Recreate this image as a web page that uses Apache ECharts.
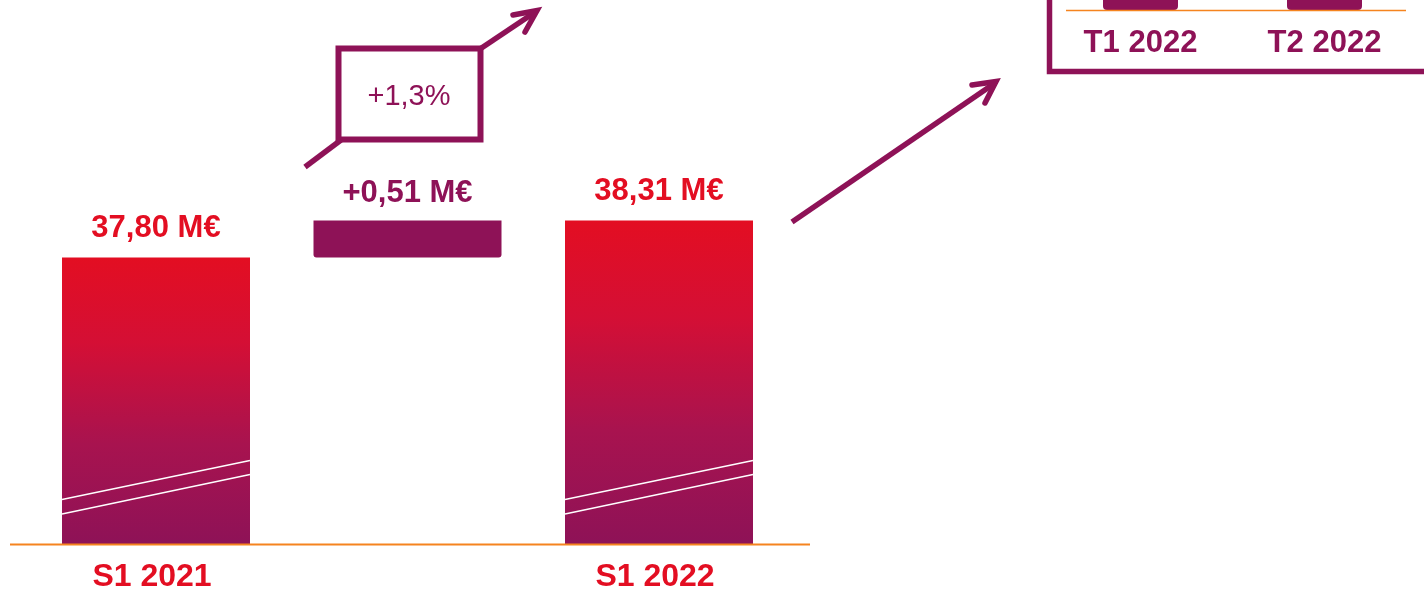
<!DOCTYPE html>
<html><head><meta charset="utf-8">
<script src="https://cdn.jsdelivr.net/npm/echarts@6/dist/echarts.min.js"></script>
<style>html,body{margin:0;padding:0;background:#fff}#c{width:1424px;height:589px}</style>
</head><body><div id="c"></div>
<script>
// ---- data ----
const categories = ['S1 2021', '', 'S1 2022'];
const totalValues = [37.80, 37.80, 38.31];      // middle entry = invisible base of the delta bar
const deltaValues = ['-', 0.51, '-'];
const valueLabels = ['37,80 M€', '+0,51 M€', '38,31 M€'];
const growthLabel = '+1,3%';
const insetCategories = ['T1 2022', 'T2 2022'];
const insetValues = [18.9, 19.4];

// ---- style ----
const RED = '#E30E22', PURPLE = '#8E1257', ORANGE = '#F5841F';
const FONT = '"Liberation Sans", Arial, sans-serif';
const Y_MIN = 33.85, Y_MAX = 41.35;

const grad = new echarts.graphic.LinearGradient(0, 0, 0, 1, [
  {offset: 0, color: '#E30E22'},
  {offset: 0.3, color: '#D40F35'},
  {offset: 0.65, color: '#A8134F'},
  {offset: 1, color: '#8E1257'}
]);

const chart = echarts.init(document.getElementById('c'), null, {renderer: 'canvas'});

const option = {
  animation: false,
  backgroundColor: '#fff',
  grid: [
    {left: 30.25, width: 754.5, top: 0, height: 544, outerBoundsMode: 'none', containLabel: false},
    {left: 1048.5, width: 368, top: 0, height: 10, outerBoundsMode: 'none', containLabel: false}
  ],
  xAxis: [
    {type: 'category', gridIndex: 0, data: categories,
     axisLine: {show: false}, axisTick: {show: false},
     axisLabel: {interval: 0, margin: 17, color: RED, fontFamily: FONT, fontWeight: 'bold', fontSize: 32,
                 padding: [0, 8, 0, 0]}},
    {type: 'category', gridIndex: 1, data: insetCategories,
     axisLine: {show: false}, axisTick: {show: false},
     axisLabel: {interval: 0, margin: 18, color: PURPLE, fontFamily: FONT, fontWeight: 'bold', fontSize: 31}}
  ],
  yAxis: [
    {type: 'value', gridIndex: 0, min: Y_MIN, max: Y_MAX, show: false},
    {type: 'value', gridIndex: 1, min: 0, max: 1, show: false}
  ],
  series: [
    {
      type: 'bar', name: 'base', stack: 'w', xAxisIndex: 0, yAxisIndex: 0, barWidth: 188,
      data: totalValues.map((v, i) => ({
        value: v,
        itemStyle: {color: i === 1 ? 'rgba(0,0,0,0)' : grad},
        label: {show: i !== 1}
      })),
      label: {
        show: true, position: 'top', distance: 14, color: RED,
        fontFamily: FONT, fontWeight: 'bold', fontSize: 31,
        formatter: p => valueLabels[p.dataIndex]
      }
    },
    {
      type: 'bar', name: 'delta', stack: 'w', xAxisIndex: 0, yAxisIndex: 0, barWidth: 186,
      data: deltaValues,
      itemStyle: {color: PURPLE, borderRadius: [0, 0, 3, 3]},
      label: {
        show: true, position: 'top', distance: 12, color: PURPLE,
        fontFamily: FONT, fontWeight: 'bold', fontSize: 31,
        formatter: p => valueLabels[p.dataIndex]
      }
    },
    {
      type: 'bar', name: 'inset', xAxisIndex: 1, yAxisIndex: 1, barWidth: 75,
      data: insetValues,
      itemStyle: {color: PURPLE, borderRadius: [0, 0, 4, 4]}
    }
  ]
};
chart.setOption(option);

// ---- decorations computed from the axes ----
const baseY = chart.convertToPixel({yAxisIndex: 0}, Y_MIN);
const graphics = [];
// main baseline
graphics.push({type: 'line', z: 100, shape: {x1: 10, y1: baseY + 0.5, x2: 810, y2: baseY + 0.5},
  style: {stroke: ORANGE, lineWidth: 2.2}});
// axis-break marks on the total bars
[0, 2].forEach(i => {
  const cx = chart.convertToPixel({xAxisIndex: 0}, i);
  const hw = 94;
  [[-44.5, -83.5], [-30, -69.5]].forEach(([l, r]) => {
    graphics.push({type: 'line', z: 100, shape: {x1: cx - hw, y1: baseY + l, x2: cx + hw, y2: baseY + r},
      style: {stroke: '#fff', lineWidth: 1.4}});
  });
});
// inset baseline
const insetBase = chart.convertToPixel({yAxisIndex: 1}, 0);
graphics.push({type: 'line', z: 100, shape: {x1: 1066, y1: insetBase + 0.5, x2: 1406, y2: insetBase + 0.5},
  style: {stroke: ORANGE, lineWidth: 1.3}});
// inset frame
graphics.push({type: 'rect', z: 100, shape: {x: 1049.5, y: -30, width: 420, height: 101.5},
  style: {fill: 'none', stroke: PURPLE, lineWidth: 5.5}});
// growth box and arrows
graphics.push({type: 'rect', z: 100, shape: {x: 338.5, y: 48.5, width: 142, height: 91},
  style: {fill: 'none', stroke: PURPLE, lineWidth: 6}});
graphics.push({type: 'text', z: 100, x: 409, y: 97,
  style: {text: growthLabel, fill: PURPLE, font: '29px ' + FONT, align: 'center', verticalAlign: 'middle'}});
graphics.push({type: 'line', z: 100, shape: {x1: 305, y1: 167, x2: 341, y2: 140},
  style: {stroke: PURPLE, lineWidth: 5.5}});
graphics.push({type: 'line', z: 100, shape: {x1: 480, y1: 49, x2: 536, y2: 11.5},
  style: {stroke: PURPLE, lineWidth: 5.5}});
graphics.push({type: 'polyline', z: 100, shape: {points: [[513, 15], [537, 10.5], [525, 32]]},
  style: {stroke: PURPLE, lineWidth: 5.5, fill: 'none', lineCap: 'round', lineJoin: 'miter'}});
graphics.push({type: 'line', z: 100, shape: {x1: 792, y1: 222, x2: 995, y2: 83},
  style: {stroke: PURPLE, lineWidth: 5.5}});
graphics.push({type: 'polyline', z: 100, shape: {points: [[972, 85], [996, 81.5], [985, 103]]},
  style: {stroke: PURPLE, lineWidth: 5.5, fill: 'none', lineCap: 'round', lineJoin: 'miter'}});

chart.setOption({graphic: {elements: graphics}});
</script>
</body></html>
